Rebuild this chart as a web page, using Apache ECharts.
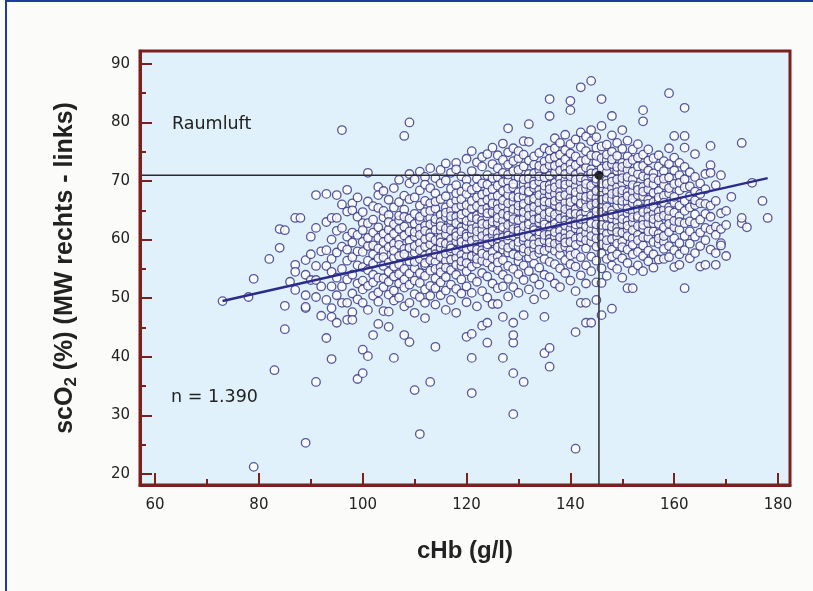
<!DOCTYPE html>
<html>
<head>
<meta charset="utf-8">
<script src="https://cdn.jsdelivr.net/npm/echarts@6/dist/echarts.min.js"></script>
<style>
  html, body { margin: 0; padding: 0; background: #fbfbf9; }
  #chart { position: absolute; left: 0; top: 0; width: 813px; height: 591px; }
  #frame { position: absolute; left: 5px; top: 0; width: 830px; height: 620px;
           border: 2px solid #1e3c9c; box-sizing: border-box; pointer-events: none; }
</style>
</head>
<body>
<div id="chart"></div>
<div id="frame"></div>
<script>
  // axis ranges and ticks
  var xMin = 57.1, xMax = 182.3;
  var yMin = 18.1, yMax = 92.2;
  var xMajor = [60, 80, 100, 120, 140, 160, 180];
  var xMinor = [70, 90, 110, 130, 150, 170];
  var yMajor = [20, 30, 40, 50, 60, 70, 80, 90];
  var yMinor = [25, 35, 45, 55, 65, 75, 85];

  // measurements, grouped by cHb (g/l): [cHb, [scO2 values]]
  var lowHb = [
    [73, [49.5]], [78, [50.2]], [79, [21.2, 53.3]], [82, [56.7]], [83, [37.7]],
    [84, [58.6, 61.8]], [85, [44.7, 48.7, 61.6]], [86, [52.8]],
    [87, [63.7, 55.7, 54.5, 51.4]], [88, [63.7]],
    [89, [25.3, 48.3, 48.5, 50.5, 54, 56.5]], [90, [53.1, 57.5, 60.5]],
    [91, [67.6, 55.5, 50.2, 53.1, 35.7, 62]], [92, [58, 47, 52]],
    [93, [63, 58.2, 49.7, 43.2, 67.8, 55.5]],
    [94, [63.7, 60, 56.7, 48.3, 46.8, 39.6, 52, 54.5]],
    [95, [67.6, 63.7, 50.5, 57.8, 61.5, 45.8, 53.5]],
    [96, [78.7, 58.8, 62, 55, 49.2, 66, 52]],
    [97, [46.3, 49.2, 60.5, 56.4, 64.8, 53.2, 58.3, 68.5]],
    [98, [66.2, 65, 47.6, 46.3, 61.2, 57, 54, 50.8, 59.5]],
    [99, [63.9, 58, 52.5, 55.6, 36.2, 60.8, 67.2, 49.8]]
  ];
  var midHb = [
    [100, [62.8, 61.6, 37.2, 41.2, 49.2, 55.3, 57.9, 53, 64.7, 59.6, 51.5]],
    [101, [40.1, 62.8, 71.4, 56.4, 58.9, 52.1, 60.3, 54.8, 66.5, 48]],
    [102, [43.7, 57.5, 61.2, 63.4, 54, 50.4, 59, 65.7, 55.9, 52.7]],
    [103, [69, 65.4, 49.4, 56.8, 60.3, 62.1, 53.5, 58.5, 51, 67.6, 45.6]],
    [104, [58, 61, 55.5, 63.8, 51.9, 57, 64.9, 53.4, 59.6, 47.8, 68.3]],
    [105, [64.2, 47.7, 45.1, 58.7, 56.1, 61.7, 52.8, 54.5, 60.2, 63, 66.8, 50.6]],
    [106, [39.8, 56.9, 59.3, 62.6, 53.7, 65.5, 51.3, 55.4, 61, 58.1, 49.6, 68.8]],
    [107, [60, 57.2, 54.1, 63.3, 66.4, 52.5, 59.1, 61.8, 50.1, 55.8, 64.1, 70.2]],
    [108, [77.7, 43.7, 58.4, 62.2, 55, 60.7, 65.1, 53.2, 57.5, 51.8, 67.5, 63.9, 48.6]],
    [109, [80, 42.5, 49.2, 61.4, 56.3, 59.8, 54.2, 63.6, 66.9, 52.3, 58.6, 69.6, 71.2]],
    [110, [34.3, 57.8, 62.7, 55.1, 60.5, 64.4, 53, 50.7, 58.9, 67.2, 61.3, 56.2, 70.3, 47.5]],
    [111, [26.8, 59.4, 63.2, 56.7, 61.9, 54.3, 65.8, 52.6, 58.2, 68.4, 60.8, 50.2, 71.6, 63.9]],
    [112, [70.7, 46.6, 49.2, 55.6, 58.8, 62.4, 60.1, 64.7, 53.8, 57.3, 66.6, 51.5, 69.4, 61.5, 56]],
    [113, [72.2, 35.7, 57.7, 61.1, 54.7, 63.7, 59.2, 66.2, 52.1, 56.5, 68.8, 60.4, 50.4, 64.9, 62.6]],
    [114, [41.7, 59.9, 62.9, 56.2, 65.3, 53.4, 58.3, 61.7, 67.9, 55, 70.5, 51.7, 63.5, 48.9, 57.5, 66.5]],
    [115, [58.6, 61.5, 55.3, 64.2, 60.3, 52.7, 66.9, 57, 69.6, 63, 54.4, 71.9, 59.5, 50.5, 62.3]],
    [116, [60.9, 56.4, 63.8, 58.2, 67.4, 53.6, 61.9, 65.5, 55.2, 70.1, 59.3, 51.3, 73, 57.6, 64.6, 48]],
    [117, [62.5, 57.9, 60.1, 65, 54.8, 68.7, 59, 63.3, 56.6, 71.4, 52.3, 61.6, 66.2, 58.5, 49.7, 64]],
    [118, [73.1, 47.5, 59.7, 63.9, 56.9, 61.2, 66.7, 54, 69.3, 58.1, 62.8, 51.6, 65.4, 60.6, 72, 55.7, 67.9]],
    [119, [58.9, 62.1, 65.8, 55.5, 60.2, 68.2, 53.2, 63.6, 57.4, 70.8, 61.4, 50.8, 66.9, 59.6, 64.3, 56.3]]
  ];
  var coreHb = [
    [120, [73.8, 43.4, 61, 57.1, 64.7, 59.3, 67.8, 54.6, 62.4, 70.2, 56, 60.5, 65.9, 52, 63.2, 58.4, 69, 49.3]],
    [121, [75.1, 43.9, 33.8, 39.8, 62.7, 58.7, 65.3, 60.9, 55.4, 68.5, 63.8, 57.2, 71.7, 53.5, 61.8, 66.6, 59.8, 50.9]],
    [122, [60.3, 64.1, 57.6, 67.2, 62.2, 55.9, 70.4, 59.1, 65.7, 52.8, 61.4, 73.2, 58.3, 63.5, 68.9, 56.7, 48.6]],
    [123, [45.3, 63.3, 59.4, 66.4, 61.7, 56.4, 69.6, 64.6, 58.2, 72.5, 54.3, 62.7, 67.7, 60.6, 51.2, 65.1, 57.6, 74.1]],
    [124, [45.8, 42.4, 61.2, 65.4, 58.7, 63.9, 68.1, 56.1, 71, 60.1, 66.8, 53.7, 62.6, 59.2, 74.6, 64.5, 57.3, 50.1, 69.4]],
    [125, [64.7, 60.8, 67.3, 57.9, 62.3, 70.5, 55.3, 65.9, 59.7, 72.9, 63.1, 52.5, 68.6, 61.5, 56.8, 75.7, 66.2, 49]],
    [126, [49, 62.9, 66.1, 59.5, 69.2, 64.3, 57.1, 72.2, 61.1, 67.5, 54.8, 63.7, 70.7, 58.7, 65.2, 51.7, 74.4, 60.2, 56.1]],
    [127, [39.8, 46.8, 65.8, 61.6, 68.3, 58.3, 63.2, 71.4, 56.5, 66.7, 60.4, 73.6, 54, 64.4, 69.8, 59.1, 62.1, 76.4, 52]],
    [128, [79, 61.4, 67.6, 63.8, 57.8, 70, 65, 59.9, 72.8, 55.5, 68.7, 62.5, 74.9, 58.6, 66.2, 53.3, 64.1, 71.1, 60.7, 50.3]],
    [129, [75.6, 30.2, 37.2, 42.4, 43.7, 45.8, 64.6, 60.6, 68.9, 57.5, 66.4, 62.8, 71.7, 55, 65.2, 73.4, 59.1, 69.5, 61.8, 51.9, 67.3, 63.5]],
    [130, [62, 66.9, 58.8, 70.7, 64.9, 56.3, 68.1, 60.9, 73.9, 63.3, 54.1, 67.2, 71.9, 59.6, 65.8, 50.9, 61.5, 75.1, 57.2]],
    [131, [47.1, 35.7, 65.6, 61.3, 69.4, 57.9, 63.6, 72.5, 59.8, 67.3, 55.6, 64.7, 70.3, 62.3, 53.1, 66.1, 74.5, 60.4, 68.4, 58.5, 76.8]],
    [132, [79.7, 76.7, 63, 67.9, 59.3, 71.2, 65.3, 61.7, 69.1, 56.9, 73.5, 64.1, 54.6, 66.7, 70.4, 60.6, 62.6, 51.5, 68.2, 58]],
    [133, [66.4, 62.1, 70, 58.4, 64.5, 72.8, 60, 68.8, 55.9, 65.6, 74.2, 61.6, 67, 57.3, 63.4, 71.3, 53.4, 69.4, 59.2, 49.8]],
    [134, [64, 68.5, 60.7, 71.9, 62.9, 66.3, 57.7, 74.8, 65, 59.5, 69.9, 55.2, 63.6, 72.6, 61.4, 67.6, 52.3, 70.8, 58.3]],
    [135, [40.6, 46.8, 67.2, 63.2, 70.6, 59.9, 65.7, 73.3, 61.9, 68.4, 56.7, 64.3, 75.6, 60.8, 69.2, 54, 66.5, 72.1, 62.6, 58.1, 50.6]],
    [136, [41.5, 38.3, 84, 81.1, 65.1, 69.3, 61, 72.7, 63.8, 67.7, 58.6, 75.2, 66.3, 60.1, 70.9, 56.2, 64.7, 73.8, 62.2, 68.6, 53.6, 59.5]],
    [137, [63.4, 67.8, 60.5, 71.4, 65.9, 58.1, 74.1, 62.7, 69.7, 55.8, 66.6, 77.3, 61.3, 72.6, 64.3, 52.5, 68.9, 59.3, 75.6]],
    [138, [66.8, 62.3, 70.4, 59.7, 64.9, 73, 57.4, 68.2, 61.5, 76.5, 65.6, 55.1, 71.8, 63.6, 69.5, 60.4, 67.4, 51.9, 74.5, 58.6]],
    [139, [64.2, 68.9, 61.2, 72.3, 66.3, 58.8, 75.3, 63.3, 70.1, 56.5, 67.6, 60.2, 73.7, 65.2, 54.3, 71.2, 62.4, 77.9, 59.5, 69.4]]
  ];
  var highHb = [
    [140, [83.7, 82.1, 65.6, 61.8, 69.7, 58.2, 67.1, 72.9, 63.8, 70.8, 55.8, 66.4, 74.7, 60.8, 64.5, 71.9, 57.3, 68.4, 53, 62.9, 76.3, 59.6]],
    [141, [44.2, 24.3, 67.5, 63.1, 71.1, 60.2, 65.2, 74.2, 61.9, 69.1, 57.6, 66.8, 72.7, 64.4, 59.1, 77.1, 62.6, 70.2, 55.4, 68.1, 51.2]],
    [142, [86, 65.9, 69.8, 62.6, 73.4, 67.4, 59.7, 71.7, 64.3, 57, 75.8, 61.3, 68.6, 66.2, 53.9, 70.6, 63.5, 78.3, 60.4, 49.2]],
    [143, [49.2, 45.8, 64.7, 68.7, 61.1, 72.3, 66.6, 58.5, 75.1, 63.4, 70.2, 55.6, 67.3, 62.2, 73.6, 65.5, 59.9, 77.6, 69.5, 52.5]],
    [144, [87.1, 78.7, 45.8, 66.9, 63, 70.9, 59.6, 68.3, 74.4, 61.7, 65.9, 72, 57.1, 69.2, 64, 76.8, 60.6, 67.6, 54.6, 71.3, 62.8]],
    [145, [49.7, 65.4, 69.9, 61.5, 73.2, 67.1, 58.8, 71.4, 63.9, 75.7, 60.2, 68.3, 56.4, 66.2, 74.3, 62.6, 70.4, 52.7, 64.8, 77.5]],
    [146, [84, 79.4, 52.6, 47.1, 67.8, 63.8, 70.7, 60.3, 65.6, 73.9, 61.7, 68.9, 57.6, 72.1, 64.7, 55.1, 66.8, 75.9, 59.2, 69.6, 62.5]],
    [147, [66.5, 70.1, 62.3, 73.6, 64.8, 58.9, 68.3, 76.2, 61, 71.5, 56.7, 67.1, 63.9, 74.5, 59.9, 69.5, 65.5, 53.8, 72.6]],
    [148, [48.2, 81.1, 65, 68.8, 61.5, 72.9, 66.9, 58.3, 70.6, 63.6, 75, 60.1, 67.8, 55.6, 69.9, 64.3, 73.7, 62.2, 57.1, 77.8]],
    [149, [67.3, 63.1, 71.7, 60.4, 65.8, 74.3, 62, 69, 57.5, 66.7, 72.4, 64.2, 59.3, 70.3, 55, 68.1, 76.5, 61.3]],
    [150, [78.7, 65.9, 69.6, 62.6, 73.1, 67.7, 59.7, 71.5, 64.3, 75.5, 61.2, 68.4, 56.8, 66.6, 70.5, 63.5, 58.7, 72.4, 53.5]],
    [151, [51.7, 68.1, 64.5, 71.9, 61.7, 66.4, 74.2, 63.2, 69.9, 58.3, 67.4, 73, 60.6, 65.3, 56, 70.7, 62.4, 76.9]],
    [152, [51.7, 66.2, 70.3, 62.9, 73.6, 64.8, 60.2, 68.2, 75.4, 61.6, 67, 57.5, 71.6, 63.8, 69.3, 59.1, 54.7]],
    [153, [67.6, 63.6, 71.2, 60.8, 66, 74, 62.3, 69.1, 57.9, 65.1, 72.5, 59.9, 68.5, 55.6, 64, 76.3]],
    [154, [82.1, 80.2, 54.6, 65.3, 69, 61.9, 72.6, 63.4, 67.4, 59, 70.8, 64.7, 57.2, 74.5, 62.5, 68.2, 60.4]],
    [155, [66.8, 70.6, 62.8, 64.9, 68.6, 60.3, 73.5, 58.1, 66.1, 71.8, 63.9, 56.3, 69.7, 61.4, 75.4]],
    [156, [55.2, 64.4, 68, 61.4, 71.3, 66.4, 59.6, 73.9, 62.8, 69.4, 57.5, 65.6, 70.5, 63.5]],
    [157, [66.7, 62.7, 70.1, 59.3, 64.8, 72.5, 61, 68.3, 56.6, 67.2, 74.4, 63.8, 60.2]],
    [158, [59.6, 56.7, 65.1, 69.3, 62.1, 71.7, 67.5, 60.6, 64.1, 73.4, 58.4, 66.3, 70.4]],
    [159, [85, 63.7, 67.9, 61.3, 70.6, 65.5, 58.9, 72.9, 62.7, 68.8, 57, 64.9, 75.6]]
  ];
  var topHb = [
    [160, [77.7, 66.3, 62.1, 69.5, 60.2, 64.6, 71.8, 58.2, 67.3, 63.2, 74, 55.3]],
    [161, [55.7, 64, 68.4, 61.7, 71, 65.8, 59.4, 73.1, 63, 69.7, 57.5]],
    [162, [82.5, 77.7, 62.8, 51.7, 66.6, 60.6, 70.3, 64.9, 58.2, 68.9, 72.4, 75.7]],
    [163, [65.5, 61.4, 69.1, 63.1, 67.4, 59.3, 71.5, 56.8]],
    [164, [74.6, 57.7, 65.9, 62.8, 68.2, 64.3, 60.5, 70.7, 66.7]],
    [165, [66.2, 63.4, 69.6, 61.2, 58.9, 67.8, 55.4]],
    [166, [64.4, 55.7, 62, 68.6, 59.9, 66.1, 71.2]],
    [167, [72.7, 71.4, 76, 65.8, 61.7, 63.9, 58.3]],
    [168, [62.2, 60.8, 57.7, 55.7, 69.3, 66.6]],
    [169, [71, 64.5, 59.4, 59, 61.8]],
    [170, [64.9, 62.5, 57.2]],
    [171, [67.3]], [173, [76.5, 62.8, 63.7]], [174, [62.1]],
    [175, [69.7]], [177, [66.6]], [178, [63.7]]
  ];

  // regression line ends and marked reading
  var fitLine = [[73, 49.5], [178, 70.5]];
  var marked = [145.5, 71];

  function flatten(groups) {
    var out = [];
    groups.forEach(function (g) {
      g[1].forEach(function (v) { out.push([g[0], v]); });
    });
    return out;
  }
  var points = [].concat(flatten(lowHb), flatten(midHb), flatten(coreHb),
                         flatten(highHb), flatten(topHb));

  var axisRed = '#7b1f1f';
  var tickFont = { fontFamily: 'DejaVu Sans', fontSize: 15, color: '#222' };
  var nameFont = { fontFamily: 'Liberation Sans', fontWeight: 'bold', fontSize: 25, color: '#222' };

  var my_chart = echarts.init(document.getElementById('chart'));
  my_chart.setOption({
    animation: false,
    backgroundColor: 'transparent',
    grid: {
      left: 140, top: 51, width: 650, height: 434, z: 0,
      show: true, backgroundColor: '#e1f1fb',
      borderColor: axisRed, borderWidth: 3
    },
    xAxis: [{
      type: 'value', min: xMin, max: xMax, position: 'bottom', z: 10,
      name: 'cHb (g/l)', nameLocation: 'middle', nameGap: 54,
      nameTextStyle: Object.assign({}, nameFont, { fontSize: 24 }),
      axisLine: { show: true, onZero: false, lineStyle: { color: axisRed, width: 3 } },
      splitLine: { show: false },
      axisTick: { show: true, inside: true, length: 12, customValues: xMajor, lineStyle: { color: axisRed, width: 2 } },
      axisLabel: Object.assign({ margin: 13, customValues: xMajor }, tickFont)
    }, {
      type: 'value', min: xMin, max: xMax, position: 'bottom', z: 10,
      axisLine: { show: false, onZero: false }, splitLine: { show: false },
      axisTick: { show: true, inside: true, length: 6, customValues: xMinor, lineStyle: { color: axisRed, width: 2 } },
      axisLabel: { show: false }
    }],
    yAxis: [{
      type: 'value', min: yMin, max: yMax, position: 'left', z: 10,
      name: '{a|scO}{s|2}{a| (%) (MW rechts - links)}',
      nameLocation: 'middle', nameGap: 60, nameRotate: 90,
      nameTextStyle: {
        rich: {
          a: nameFont,
          s: { fontFamily: 'Liberation Sans', fontWeight: 'bold', fontSize: 17, color: '#222', padding: [12, 0, 0, 0] }
        }
      },
      axisLine: { show: true, onZero: false, lineStyle: { color: axisRed, width: 3 } },
      splitLine: { show: false },
      axisTick: { show: true, inside: true, length: 12, customValues: yMajor, lineStyle: { color: axisRed, width: 2 } },
      axisLabel: Object.assign({ margin: 10, customValues: yMajor }, tickFont)
    }, {
      type: 'value', min: yMin, max: yMax, position: 'left', z: 10,
      axisLine: { show: false, onZero: false }, splitLine: { show: false },
      axisTick: { show: true, inside: true, length: 6, customValues: yMinor, lineStyle: { color: axisRed, width: 2 } },
      axisLabel: { show: false }
    }],
    graphic: [
      { type: 'text', left: 172, top: 115, style: { text: 'Raumluft', font: '17.5px "DejaVu Sans"', fill: '#222' } },
      { type: 'text', left: 171, top: 388, style: { text: 'n = 1.390', font: '17.5px "DejaVu Sans"', fill: '#222' } }
    ],
    series: [{
      type: 'scatter',
      data: points,
      symbol: 'circle',
      symbolSize: 8.5,
      itemStyle: { color: '#ffffff', borderColor: '#2f2f82', borderWidth: 1.3 },
      silent: true
    }, {
      type: 'line',
      data: [[xMin, marked[1]], marked, [marked[0], yMin]],
      symbol: 'none',
      lineStyle: { color: '#2a2a2a', width: 1.5 },
      silent: true
    }, {
      type: 'line',
      data: fitLine,
      symbol: 'none',
      lineStyle: { color: '#2b2b8c', width: 2.5 },
      silent: true
    }, {
      type: 'scatter',
      data: [marked],
      symbolSize: 9,
      itemStyle: { color: '#000' },
      silent: true
    }]
  });
</script>
</body>
</html>
